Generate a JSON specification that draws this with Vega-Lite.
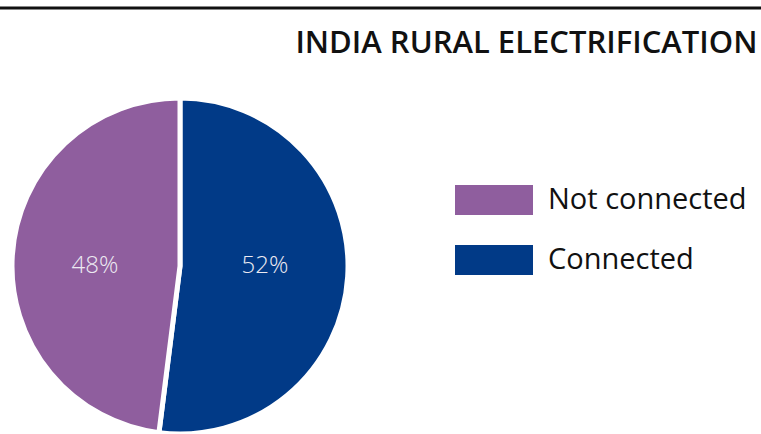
{
  "$schema": "https://vega.github.io/schema/vega-lite/v6.json",
  "width": 336,
  "height": 336,
  "autosize": {"type": "none"},
  "padding": {"left": 12, "top": 98, "right": 413, "bottom": 0},
  "background": "white",
  "config": {"view": {"stroke": null}},
  "title": {
    "text": "INDIA RURAL ELECTRIFICATION",
    "anchor": "end",
    "frame": "bounds",
    "font": "Open Sans",
    "fontSize": 31,
    "fontWeight": 600,
    "color": "#111111",
    "offset": -53,
    "dx": -5
  },
  "data": {
    "values": [
      {"status": "Connected", "share": 0.52},
      {"status": "Not connected", "share": 0.48}
    ]
  },
  "layer": [
    {
      "mark": {"type": "arc", "stroke": "white", "strokeWidth": 5},
      "encoding": {
        "theta": {"field": "share", "type": "quantitative", "stack": true},
        "order": {"field": "status", "sort": "ascending"},
        "color": {
          "field": "status",
          "type": "nominal",
          "scale": {"domain": ["Not connected", "Connected"], "range": ["#8F5E9E", "#013A87"]},
          "legend": {
            "orient": "none",
            "legendX": 443,
            "legendY": 63,
            "title": null,
            "symbolType": "M-1,-0.385H1V0.385H-1Z",
            "symbolSize": 6084,
            "symbolStrokeWidth": 0,
            "symbolOpacity": 1,
            "labelFont": "Open Sans",
            "labelFontSize": 29,
            "labelColor": "#111111",
            "labelOffset": 15,
            "labelLimit": 400,
            "rowPadding": 5
          }
        }
      }
    },
    {
      "mark": {"type": "text", "radius": 85, "thetaOffset": -0.063, "font": "Open Sans", "fontSize": 24, "fontWeight": 300, "color": "#ECEAF2"},
      "encoding": {
        "theta": {"field": "share", "type": "quantitative", "stack": true},
        "order": {"field": "status", "sort": "ascending"},
        "text": {"field": "share", "type": "quantitative", "format": ".0%"}
      }
    },
    {
      "data": {"values": [{}]},
      "mark": {"type": "rule", "color": "#111111", "strokeWidth": 3},
      "encoding": {"x": {"value": -12}, "x2": {"value": 749}, "y": {"value": -90}}
    }
  ]
}
